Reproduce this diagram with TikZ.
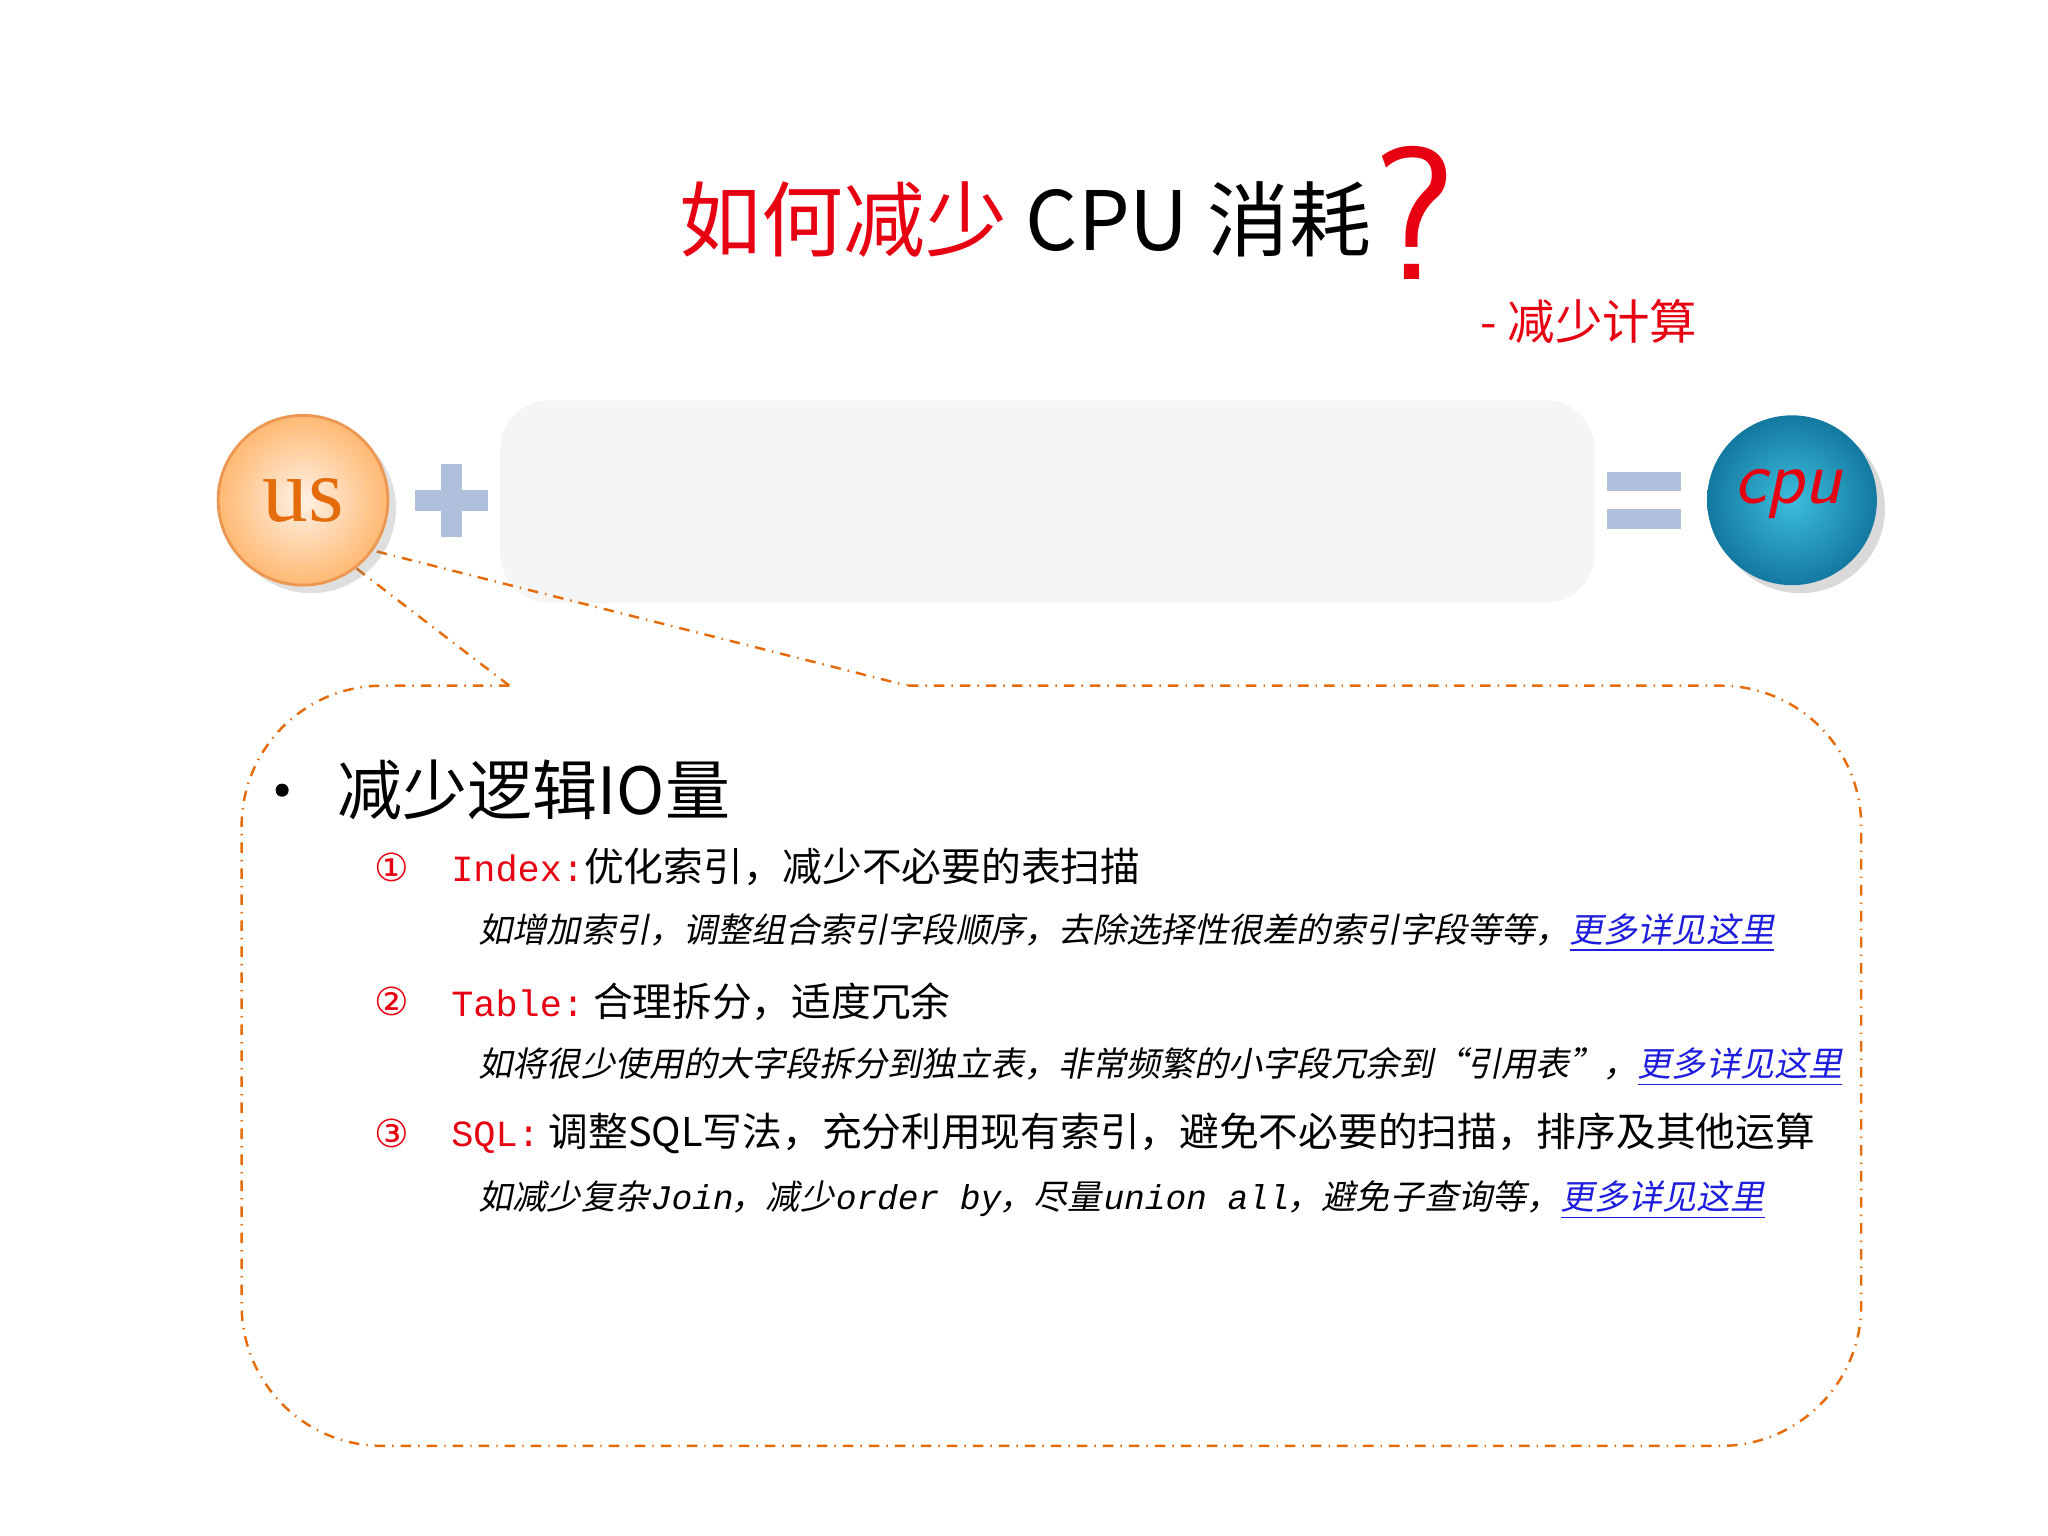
\documentclass[tikz,border=0pt]{standalone}
\usepackage{fontspec}
\setmainfont{Liberation Serif}
\newfontfamily\cjk{Noto Sans CJK SC}
\newfontfamily\cjki{Noto Sans CJK SC}[FakeSlant=0.2]
\newfontfamily\monof{Liberation Mono}
\newfontfamily\monoi{Liberation Mono}[FakeSlant=0.2]
\newfontfamily\symf{DejaVu Sans}
\usetikzlibrary{shadows}
\definecolor{tred}{RGB}{230,0,18}
\definecolor{orng}{RGB}{228,108,10}
\definecolor{lnk}{RGB}{30,30,220}
\definecolor{sym}{RGB}{176,192,220}
\definecolor{tealA}{RGB}{60,190,220}
\definecolor{tealB}{RGB}{20,120,160}
\tikzset{
 itm/.style={anchor=west,font=\cjk\fontsize{11.3}{14}\selectfont,inner sep=0},
 sub/.style={anchor=west,font=\cjki\fontsize{9.7}{12}\selectfont,inner sep=0},
 num/.style={anchor=center,text=tred,font=\symf\fontsize{11}{14}\selectfont,inner sep=0},
 bar/.style={fill=sym,draw=none}
}
\newcommand{\lk}[1]{\textcolor{lnk}{\underline{#1}}}
\begin{document}
\begin{tikzpicture}[x=0.013061cm,y=-0.013061cm]
\useasboundingbox (0,0) rectangle (1568,1176);
% title
\node[anchor=base west,inner sep=0,font=\cjk\fontsize{23.3}{30}\selectfont] (title) at (520,192) {\textcolor{tred}{如何减少} CPU 消耗};
\node[anchor=base west,inner sep=0,text=tred,font=\fontsize{54}{56}\sffamily\selectfont] (q) at (1050,214) {?};
\node[anchor=base west,inner sep=0,text=tred,font=\cjk\fontsize{13.5}{16}\selectfont] (sub) at (1133,260) {- 减少计算};
% gray box
\node[draw=none,fill=gray!8,rounded corners=14pt,minimum width=838*0.013061cm,minimum height=155*0.013061cm,inner sep=0] (box) at (802,384) {};
% callout
\coordinate (tip) at (240,410);
\draw[orng,dash dot,line width=0.7pt] (390,525) -- (tip) -- (695,525);
\draw[orng,dash dot,line width=0.7pt,fill=white,rounded corners=40pt] (390,525) -- (185,525) -- (185,1107) -- (1425,1107) -- (1425,525) -- (695,525);
% us circle
\node[circle,minimum size=130*0.013061cm,inner sep=0,draw=orng!70,line width=0.8pt,inner color=orange!10,outer color=orange!55,drop shadow={opacity=0.25}] (us) at (232,383) {};
\node[text=orng,font=\fontsize{26}{28}\selectfont] at (us) {us};
% plus
\fill[bar] (338,355) rectangle (354,411);
\fill[bar] (318,375) rectangle (374,391);
\coordinate (plus) at (346,383);
% equals
\fill[bar] (1230,361) rectangle (1287,376);
\fill[bar] (1230,390) rectangle (1287,405);
\coordinate (eq) at (1258,383);
% cpu circle
\node[circle,minimum size=130*0.013061cm,inner sep=0,inner color=tealA,outer color=tealB,drop shadow={opacity=0.3}] (cpu) at (1372,383) {};
\node[text=tred,font=\sffamily\itshape\fontsize{22}{24}\selectfont] at (1369,378) {cpu};
% text
\fill (216,605) circle (5);
\coordinate (bul) at (216,605);
\node[anchor=west,inner sep=0,font=\cjk\fontsize{18.5}{24}\selectfont] (h) at (258,605) {减少逻辑IO量};
\node[num] (n1) at (300,664) {①};
\node[itm] (i1) at (345,664) {\textcolor{tred}{\monof\fontsize{10.5}{12}\selectfont Index:}优化索引，减少不必要的表扫描};
\node[sub] (s1) at (366,714) {如增加索引，调整组合索引字段顺序，去除选择性很差的索引字段等等，\lk{更多详见这里}};
\node[num] (n2) at (300,767) {②};
\node[itm] (i2) at (345,767) {\textcolor{tred}{\monof\fontsize{10.5}{12}\selectfont Table:}\ 合理拆分，适度冗余};
\node[sub] (s2) at (366,817) {如将很少使用的大字段拆分到独立表，非常频繁的小字段冗余到“引用表”，\lk{更多详见这里}};
\node[num] (n3) at (300,868) {③};
\node[itm] (i3) at (345,868) {\textcolor{tred}{\monof\fontsize{10.5}{12}\selectfont SQL:}\ 调整SQL写法，充分利用现有索引，避免不必要的扫描，排序及其他运算};
\node[sub] (s3) at (366,919) {如减少复杂{\monoi\fontsize{9.8}{12}\selectfont Join}，减少{\monoi\fontsize{9.8}{12}\selectfont order by}，尽量{\monoi\fontsize{9.8}{12}\selectfont union all}，避免子查询等，\lk{更多详见这里}};
\end{tikzpicture}
\end{document}
